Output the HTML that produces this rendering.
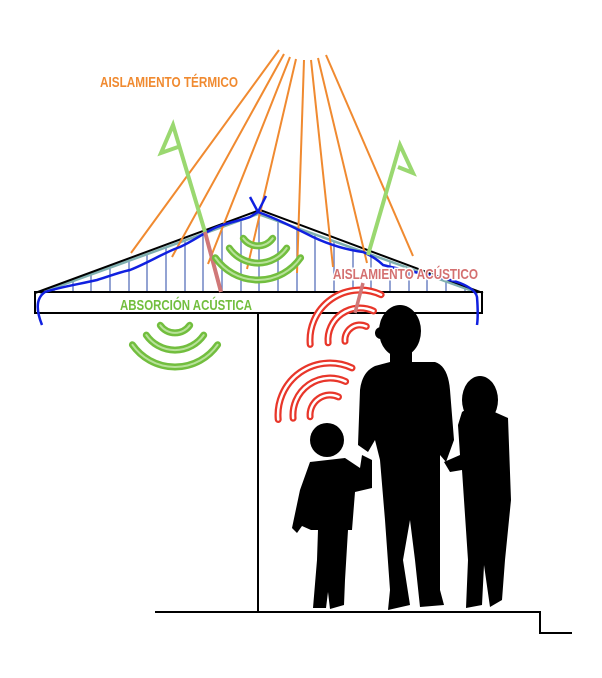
<!DOCTYPE html>
<html><head><meta charset="utf-8"><style>
html,body{margin:0;padding:0;background:#fff;}
svg{display:block;}
text{font-family:"Liberation Sans Narrow","Liberation Sans",sans-serif;font-weight:bold;}
</style></head><body>
<svg width="602" height="678" viewBox="0 0 602 678" xmlns="http://www.w3.org/2000/svg">
<g stroke="#6f84c4" stroke-width="1.5">
<line x1="54" y1="288" x2="54" y2="293"/><line x1="73" y1="281" x2="73" y2="293"/>
<line x1="91" y1="274.5" x2="91" y2="293"/><line x1="110" y1="267.6" x2="110" y2="293"/>
<line x1="129" y1="260.7" x2="129" y2="293"/><line x1="147" y1="254.2" x2="147" y2="293"/>
<line x1="166" y1="247.3" x2="166" y2="293"/><line x1="185" y1="240.5" x2="185" y2="293"/>
<line x1="203" y1="234" x2="203" y2="293"/><line x1="222" y1="227" x2="222" y2="293"/>
<line x1="241" y1="220" x2="241" y2="293"/><line x1="259" y1="214.4" x2="259" y2="293"/>
<line x1="278" y1="221.2" x2="278" y2="293"/><line x1="297" y1="228" x2="297" y2="293"/>
<line x1="315" y1="234.5" x2="315" y2="293"/><line x1="334" y1="241.3" x2="334" y2="293"/>
<line x1="353" y1="248" x2="353" y2="293"/><line x1="371" y1="254.6" x2="371" y2="293"/>
<line x1="390" y1="261.4" x2="390" y2="293"/><line x1="409" y1="268.2" x2="409" y2="293"/>
<line x1="427" y1="274.7" x2="427" y2="293"/><line x1="446" y1="281.5" x2="446" y2="293"/>
<line x1="465" y1="288.3" x2="465" y2="293"/>
</g>
<polyline points="40,293 258,214 478,293" fill="none" stroke="#7fb0b0" stroke-width="2.5"/>
<polyline points="35,293 260,210 483,293" fill="none" stroke="#000" stroke-width="2"/>
<rect x="35" y="292" width="447" height="21" fill="none" stroke="#000" stroke-width="2"/>
<line x1="258" y1="313" x2="258" y2="612" stroke="#000" stroke-width="2"/>
<polyline points="155,612 540,612 540,633 572,633" fill="none" stroke="#000" stroke-width="2"/>
<g stroke="#f08a30" stroke-width="2">
<line x1="279" y1="50" x2="131" y2="253"/>
<line x1="284" y1="54" x2="172" y2="257"/>
<line x1="290" y1="57" x2="208" y2="264"/>
<line x1="296" y1="59" x2="247" y2="269"/>
<line x1="304" y1="60" x2="297" y2="273"/>
<line x1="311" y1="60" x2="333" y2="267"/>
<line x1="318" y1="58" x2="367" y2="263"/>
<line x1="326" y1="55" x2="413" y2="256"/>
</g>
<path d="M42,325 C36,310 36,298 45,292 C60,287 80,284 97,280 C110,276 120,272 130,270 C150,262 165,252 180,247 C195,240 205,232 217,227 C230,222 242,220 250,217 L258,212 L250,197 M258,212 L266,196 M258,212 C275,218 295,228 313,237 C330,245 348,250 363,252 C372,256 378,260 383,265 C410,272 440,276 460,283 C470,287 476,292 477,297 C478,310 478,318 477,325" fill="none" stroke="#1020e0" stroke-width="2.5" stroke-linejoin="round"/>
<g stroke="#9ad870" stroke-width="4" fill="none">
<polyline points="205,232 173,125 161,153 178,147"/>
<polyline points="368,255 400,145 413,173 398,167"/>
</g>
<line x1="205" y1="232" x2="221" y2="292" stroke="#d07878" stroke-width="4"/>
<g fill="none" stroke-linecap="round">
<g stroke="#72be3e" stroke-width="7">
<path d="M272.7,238.3 A18 18 0 0 1 243.3,238.3"/>
<path d="M286.7,248.1 A35 35 0 0 1 229.3,248.1"/>
<path d="M300.6,257.8 A52 52 0 0 1 215.4,257.8"/>
<path d="M189.7,325.3 A18 18 0 0 1 160.3,325.3"/>
<path d="M203.7,335.1 A35 35 0 0 1 146.3,335.1"/>
<path d="M217.6,344.8 A52 52 0 0 1 132.4,344.8"/>
</g>
<g stroke="#b8e29a" stroke-width="2">
<path d="M272.7,238.3 A18 18 0 0 1 243.3,238.3"/>
<path d="M286.7,248.1 A35 35 0 0 1 229.3,248.1"/>
<path d="M300.6,257.8 A52 52 0 0 1 215.4,257.8"/>
<path d="M189.7,325.3 A18 18 0 0 1 160.3,325.3"/>
<path d="M203.7,335.1 A35 35 0 0 1 146.3,335.1"/>
<path d="M217.6,344.8 A52 52 0 0 1 132.4,344.8"/>
</g>
<g stroke="#e8362a" stroke-width="7">
<path d="M345,341.3 A15 15 0 0 1 366.3,326.4"/>
<path d="M328.1,342.8 A32 32 0 0 1 373.5,311"/>
<path d="M310.2,344.4 A50 50 0 0 1 381.1,294.7"/>
<path d="M310.1,416.7 A20 20 0 0 1 338.5,396.9"/>
<path d="M293.1,418.2 A37 37 0 0 1 345.6,381.5"/>
<path d="M278.2,419.5 A52 52 0 0 1 352,367.9"/>
</g>
<g stroke="#fff" stroke-width="2.5">
<path d="M345,341.3 A15 15 0 0 1 366.3,326.4"/>
<path d="M328.1,342.8 A32 32 0 0 1 373.5,311"/>
<path d="M310.2,344.4 A50 50 0 0 1 381.1,294.7"/>
<path d="M310.1,416.7 A20 20 0 0 1 338.5,396.9"/>
<path d="M293.1,418.2 A37 37 0 0 1 345.6,381.5"/>
<path d="M278.2,419.5 A52 52 0 0 1 352,367.9"/>
</g>
</g>
<line x1="363" y1="283" x2="355" y2="313" stroke="#d07878" stroke-width="3.5"/>
<g fill="#000">
<ellipse cx="400" cy="331" rx="21" ry="26"/>
<circle cx="381" cy="333" r="6"/>
<path d="M390,352 L412,352 L412,362 L435,362 Q448,366 450,390 L454,440 L446,462 L440,455 L440,520 L440,590 L444,605 L420,607 L415,560 L410,520 L403,560 L410,605 L388,610 L390,590 L385,520 L380,460 L375,440 L368,452 L358,445 L360,390 Q362,372 375,366 L390,362 Z"/>
<circle cx="327" cy="440" r="17"/>
<path d="M310,462 L345,458 L360,468 L362,455 L372,460 L372,488 L355,492 L352,530 L348,530 L345,580 L344,605 L330,609 L328,592 L326,608 L313,608 L317,560 L318,530 L311,530 L302,526 L297,533 L292,528 L300,490 Z"/>
<ellipse cx="480" cy="400" rx="18" ry="24"/>
<path d="M462,412 Q470,405 490,410 L508,418 L511,500 L505,560 L502,600 L490,607 L484,565 L482,605 L466,608 L468,560 L462,470 L450,472 L444,462 L460,455 L458,425 Z"/>
</g>
<text x="100" y="87" font-size="15" fill="#f08a30" textLength="138" lengthAdjust="spacingAndGlyphs">AISLAMIENTO TÉRMICO</text>
<text x="120" y="310" font-size="15" fill="#72be3e" textLength="132" lengthAdjust="spacingAndGlyphs">ABSORCIÓN ACÚSTICA</text>
<text x="333" y="279" font-size="15" fill="#d47070" stroke="#fff" stroke-width="3" paint-order="stroke" textLength="145" lengthAdjust="spacingAndGlyphs">AISLAMIENTO ACÚSTICO</text>
</svg>
</body></html>
